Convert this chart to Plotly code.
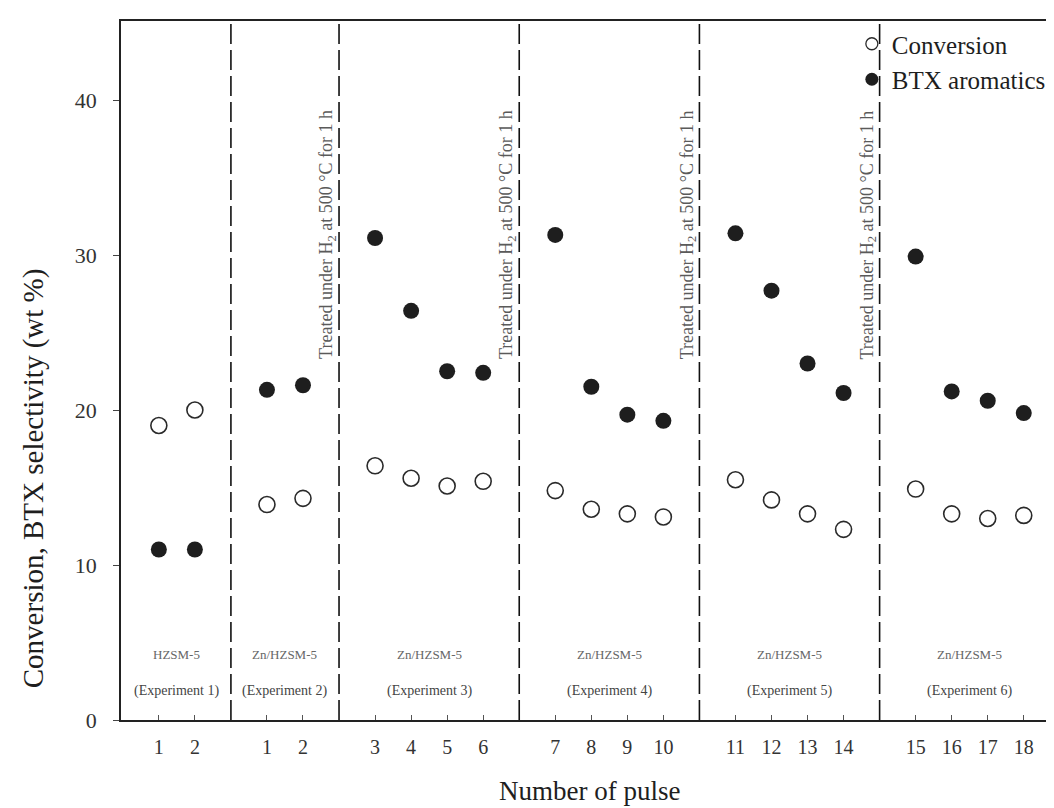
import plotly.graph_objects as go

# Data
tick_labels = ["1", "2", "1", "2", "3", "4", "5", "6", "7", "8", "9", "10",
               "11", "12", "13", "14", "15", "16", "17", "18"]
slots = [1, 2, 4, 5, 7, 8, 9, 10, 12, 13, 14, 15, 17, 18, 19, 20, 22, 23, 24, 25]
conversion = [19.0, 20.0, 13.9, 14.3, 16.4, 15.6, 15.1, 15.4,
              14.8, 13.6, 13.3, 13.1, 15.5, 14.2, 13.3, 12.3,
              14.9, 13.3, 13.0, 13.2]
btx = [11.0, 11.0, 21.3, 21.6, 31.1, 26.4, 22.5, 22.4,
       31.3, 21.5, 19.7, 19.3, 31.4, 27.7, 23.0, 21.1,
       29.9, 21.2, 20.6, 19.8]
separators = [3, 6, 11, 16, 21]
treated_at = [6, 11, 16, 21]
treated_text = "Treated under H<sub>2</sub> at 500 °C for 1 h"
group_centers = [1.5, 4.5, 8.5, 13.5, 18.5, 23.5]
group_catalyst = ["HZSM-5", "Zn/HZSM-5", "Zn/HZSM-5", "Zn/HZSM-5", "Zn/HZSM-5", "Zn/HZSM-5"]
group_experiment = ["(Experiment 1)", "(Experiment 2)", "(Experiment 3)",
                    "(Experiment 4)", "(Experiment 5)", "(Experiment 6)"]

FONT = "Liberation Serif, Times New Roman, serif"
INK = "#1e1e1e"

fig = go.Figure()
fig.add_trace(go.Scatter(
    x=slots, y=conversion, mode="markers", name="Conversion", showlegend=False,
    marker=dict(symbol="circle-open", size=16, color="#2a2a2a", line=dict(width=1.6, color="#2a2a2a")),
))
fig.add_trace(go.Scatter(
    x=slots, y=btx, mode="markers", name="BTX aromatics", showlegend=False,
    marker=dict(symbol="circle", size=16, color=INK),
))
# legend-only entries (smaller markers, as in the reference legend)
fig.add_trace(go.Scatter(
    x=[None], y=[None], mode="markers", name="Conversion",
    marker=dict(symbol="circle-open", size=12, color="#2a2a2a", line=dict(width=1.3, color="#2a2a2a")),
))
fig.add_trace(go.Scatter(
    x=[None], y=[None], mode="markers", name="BTX aromatics",
    marker=dict(symbol="circle", size=13, color=INK),
))

shapes = []
for s in separators:
    shapes.append(dict(type="line", xref="x", yref="paper", x0=s, x1=s, y0=0, y1=1,
                       line=dict(color="#111111", width=1.6, dash="20px,6px")))

annotations = []
for s in treated_at:
    annotations.append(dict(x=s, y=31.3, xref="x", yref="y", text=treated_text,
                            showarrow=False, textangle=-90, xshift=-11,
                            font=dict(family=FONT, size=18, color="#5a5a5a")))
for cx, cat, exp in zip(group_centers, group_catalyst, group_experiment):
    annotations.append(dict(x=cx, y=4.2, xref="x", yref="y", text=cat, showarrow=False,
                            font=dict(family=FONT, size=13, color="#666666")))
    annotations.append(dict(x=cx, y=1.9, xref="x", yref="y", text=exp, showarrow=False,
                            font=dict(family=FONT, size=14, color="#444444")))
# axis titles
annotations.append(dict(x=0.5, y=0, xref="paper", yref="paper", text="Number of pulse",
                        showarrow=False, yanchor="middle", yshift=-71,
                        font=dict(family=FONT, size=27, color=INK)))
annotations.append(dict(x=0, y=15.6, xref="paper", yref="y",
                        text="Conversion, BTX selectivity (wt %)",
                        showarrow=False, textangle=-90, xanchor="center", xshift=-88,
                        font=dict(family=FONT, size=29, color=INK)))

fig.update_layout(
    width=1054, height=808,
    margin=dict(l=113, r=2, t=13, b=96),
    paper_bgcolor="white", plot_bgcolor="white",
    font=dict(family=FONT, color=INK),
    shapes=shapes, annotations=annotations,
    showlegend=True,
    legend=dict(x=0.78, y=1.0, xanchor="left", yanchor="top",
                font=dict(family=FONT, size=25, color=INK),
                bgcolor="rgba(0,0,0,0)", itemsizing="trace", tracegroupgap=0),
)
fig.update_xaxes(
    range=[-0.05, 25.95], tickmode="array", tickvals=slots, ticktext=tick_labels,
    ticks="inside", ticklen=5, tickcolor="#555555", showgrid=False, zeroline=False,
    showline=True, linecolor="#222222", linewidth=1.8, mirror=True,
    ticklabelstandoff=8,
    tickfont=dict(family=FONT, size=20, color="#333333"),
)
fig.update_yaxes(
    range=[0, 45.1], tickvals=[0, 10, 20, 30, 40],
    ticks="outside", ticklen=6, tickcolor="#444444", showgrid=False, zeroline=False,
    showline=True, linecolor="#222222", linewidth=1.8, mirror=True,
    ticklabelstandoff=12,
    tickfont=dict(family=FONT, size=22, color="#333333"),
)

fig.write_html("out.html")
